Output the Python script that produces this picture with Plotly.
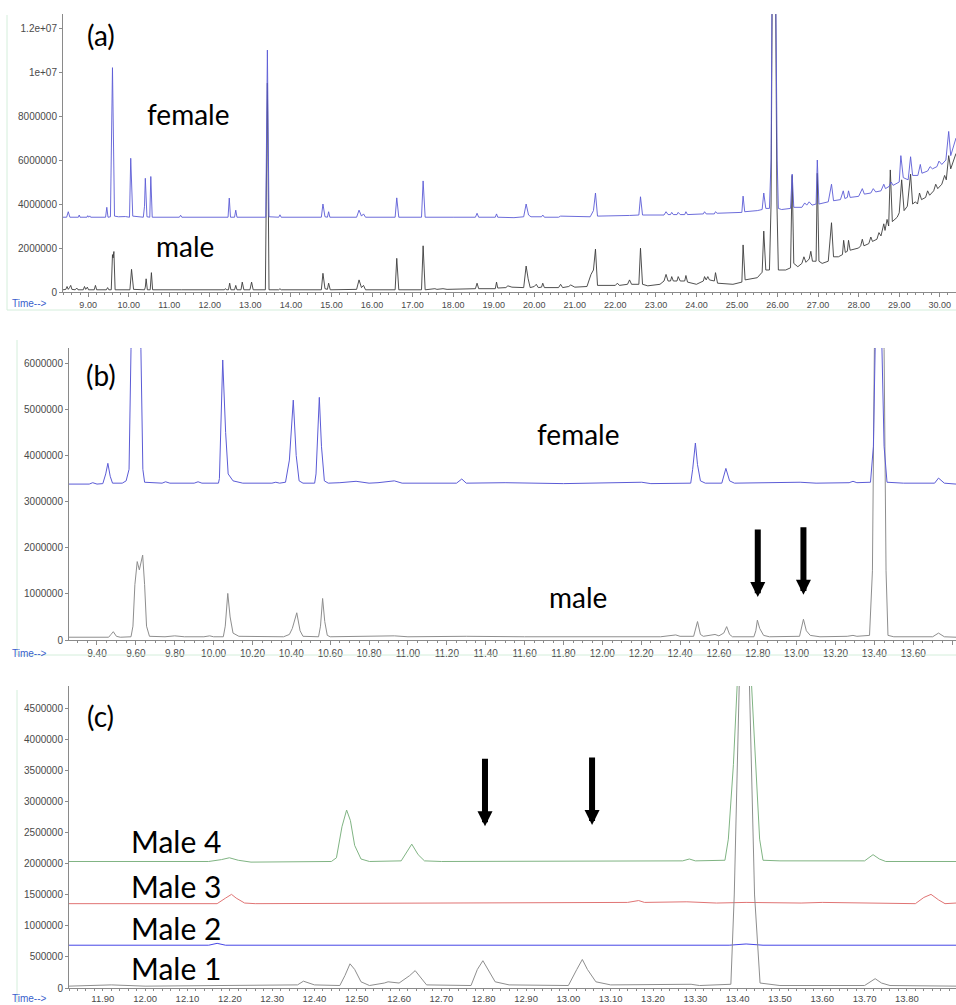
import plotly.graph_objects as go

W, H = 956, 1005
M = 1e6  # intensities below are typed in millions of counts

# ---------------- Panel (a): full chromatogram, female vs male ----------------
female_a = [
    (8.38, 3.40), (8.47, 3.40), (8.51, 3.65), (8.55, 3.40), (8.76, 3.40), (8.78, 3.50), (8.80, 3.40),
    (8.97, 3.40), (8.99, 3.47), (9.01, 3.40), (9.04, 3.46), (9.06, 3.40), (9.43, 3.40), (9.46, 3.85),
    (9.49, 3.40), (9.55, 3.42), (9.60, 10.2), (9.65, 3.45), (9.75, 3.42), (9.92, 3.43), (10.02, 3.40),
    (10.05, 6.08), (10.10, 3.45), (10.36, 3.40), (10.39, 3.90), (10.41, 5.17), (10.45, 3.42),
    (10.52, 3.40), (10.545, 5.25), (10.58, 3.40), (11.25, 3.40), (11.28, 3.49), (11.31, 3.40),
    (12.45, 3.40), (12.48, 4.27), (12.51, 3.40), (12.61, 3.40), (12.64, 3.72), (12.67, 3.40),
    (13.38, 3.40), (13.42, 11.0), (13.46, 3.42), (13.70, 3.40), (13.73, 3.51), (13.76, 3.40),
    (14.75, 3.40), (14.79, 4.00), (14.84, 3.42), (14.90, 3.40), (14.93, 3.65), (14.96, 3.40),
    (15.62, 3.40), (15.68, 3.72), (15.74, 3.45), (15.79, 3.55), (15.84, 3.40), (16.57, 3.40),
    (16.61, 4.28), (16.66, 3.40), (17.22, 3.40), (17.26, 5.05), (17.31, 3.40), (18.00, 3.40),
    (18.55, 3.40), (18.59, 3.58), (18.63, 3.40), (19.04, 3.40), (19.07, 3.55), (19.10, 3.40),
    (19.50, 3.38), (19.74, 3.42), (19.80, 4.00), (19.86, 3.50), (19.92, 3.42), (20.18, 3.42),
    (20.21, 3.50), (20.25, 3.40), (20.60, 3.40), (20.65, 3.45), (21.00, 3.42), (21.38, 3.42),
    (21.46, 3.70), (21.51, 4.50), (21.56, 3.45), (22.00, 3.45), (22.35, 3.48), (22.58, 3.50),
    (22.62, 4.33), (22.67, 3.50), (23.20, 3.50), (23.25, 3.65), (23.30, 3.52), (23.36, 3.52),
    (23.39, 3.62), (23.43, 3.52), (23.52, 3.52), (23.55, 3.62), (23.60, 3.52), (23.71, 3.52),
    (23.74, 3.65), (23.78, 3.52), (24.17, 3.55), (24.20, 3.65), (24.24, 3.55), (24.44, 3.55),
    (24.47, 3.65), (24.51, 3.58), (25.00, 3.62), (25.12, 3.62), (25.15, 4.36), (25.19, 3.65),
    (25.50, 3.70), (25.62, 3.75), (25.66, 4.50), (25.71, 3.80), (25.80, 3.80), (25.84, 6.00),
    (25.86, 12.6), (25.91, 20.0), (25.96, 12.6), (25.99, 6.00), (26.02, 3.80),
    (26.10, 3.75), (26.32, 3.80), (26.36, 5.36), (26.40, 3.85), (26.60, 3.85),
    (26.67, 4.05), (26.72, 3.95), (26.78, 4.10), (26.85, 3.95), (26.95, 4.00), (26.98, 6.00),
    (27.02, 4.00), (27.25, 4.10), (27.33, 4.90), (27.38, 4.15), (27.55, 4.20), (27.62, 4.60),
    (27.66, 4.25), (27.72, 4.30), (27.75, 4.60), (27.79, 4.30), (28.00, 4.35), (28.09, 4.70),
    (28.14, 4.45), (28.30, 4.50), (28.36, 4.70), (28.42, 4.55), (28.55, 4.60), (28.62, 4.90),
    (28.66, 4.70), (28.75, 4.80), (28.80, 5.00), (28.85, 4.85), (29.00, 5.00), (29.04, 6.20),
    (29.10, 5.20), (29.22, 5.10), (29.28, 6.15), (29.33, 5.30), (29.46, 5.30), (29.52, 5.80),
    (29.56, 5.40), (29.70, 5.50), (29.76, 5.70), (29.82, 5.60), (29.93, 5.70), (29.98, 5.95),
    (30.05, 5.80), (30.15, 6.00), (30.22, 7.30), (30.27, 6.20), (30.40, 7.00),
]
male_a = [
    (8.38, 0.10), (8.45, 0.12), (8.48, 0.25), (8.51, 0.12), (8.54, 0.20), (8.57, 0.30), (8.60, 0.12),
    (8.68, 0.10), (8.72, 0.18), (8.75, 0.10), (8.88, 0.10), (8.91, 0.25), (8.94, 0.12), (8.98, 0.22),
    (9.01, 0.10), (9.15, 0.10), (9.18, 0.30), (9.21, 0.10), (9.45, 0.10), (9.48, 0.20), (9.51, 0.10),
    (9.57, 0.10), (9.60, 1.70), (9.615, 1.55), (9.635, 1.84), (9.665, 0.10), (10.03, 0.10),
    (10.07, 1.03), (10.12, 0.12), (10.39, 0.10), (10.41, 0.22), (10.43, 0.60), (10.46, 0.10),
    (10.53, 0.10), (10.56, 0.88), (10.59, 0.10), (11.30, 0.10), (12.36, 0.10), (12.38, 0.15),
    (12.42, 0.10), (12.46, 0.10), (12.49, 0.40), (12.52, 0.10), (12.58, 0.12), (12.61, 0.10),
    (12.64, 0.30), (12.67, 0.10), (12.77, 0.10), (12.80, 0.45), (12.84, 0.10), (12.99, 0.10),
    (13.03, 0.45), (13.07, 0.10), (13.37, 0.10), (13.42, 9.50), (13.46, 0.10), (13.70, 0.10),
    (13.73, 0.15), (13.76, 0.10), (14.75, 0.10), (14.79, 0.85), (14.84, 0.15), (14.90, 0.12),
    (14.93, 0.40), (14.97, 0.10), (15.62, 0.12), (15.68, 0.55), (15.74, 0.20), (15.79, 0.30),
    (15.84, 0.10), (16.57, 0.10), (16.61, 1.53), (16.66, 0.10), (17.22, 0.10), (17.26, 2.10),
    (17.31, 0.10), (17.50, 0.12), (17.55, 0.15), (17.60, 0.12), (17.75, 0.15), (17.85, 0.12),
    (18.55, 0.15), (18.59, 0.40), (18.63, 0.15), (19.04, 0.15), (19.07, 0.45), (19.10, 0.18),
    (19.30, 0.20), (19.35, 0.28), (19.45, 0.22), (19.74, 0.20), (19.80, 1.18), (19.85, 0.60),
    (19.90, 0.20), (20.00, 0.25), (20.05, 0.35), (20.10, 0.20), (20.18, 0.22), (20.21, 0.40),
    (20.25, 0.20), (20.60, 0.20), (20.65, 0.35), (20.70, 0.20), (20.85, 0.25), (20.90, 0.32),
    (21.00, 0.22), (21.30, 0.25), (21.40, 0.80), (21.46, 1.00), (21.51, 1.95), (21.56, 0.30),
    (22.00, 0.30), (22.05, 0.40), (22.10, 0.30), (22.30, 0.35), (22.35, 0.55), (22.40, 0.35),
    (22.58, 0.35), (22.62, 1.99), (22.67, 0.35), (22.80, 0.28), (22.90, 0.30), (23.10, 0.35),
    (23.20, 0.50), (23.25, 0.80), (23.30, 0.50), (23.36, 0.50), (23.39, 0.70), (23.43, 0.50),
    (23.52, 0.50), (23.55, 0.70), (23.60, 0.50), (23.71, 0.50), (23.74, 0.75), (23.78, 0.45),
    (24.00, 0.35), (24.17, 0.50), (24.20, 0.70), (24.24, 0.55), (24.28, 0.70), (24.32, 0.55),
    (24.44, 0.50), (24.47, 0.88), (24.52, 0.40), (24.90, 0.35), (25.12, 0.45), (25.15, 2.14),
    (25.20, 0.55), (25.50, 0.65), (25.62, 0.90), (25.66, 2.77), (25.71, 1.00), (25.80, 1.00),
    (25.84, 4.00), (25.865, 12.6), (25.91, 19.0), (25.955, 12.6), (25.985, 4.00), (26.02, 1.00),
    (26.20, 1.00), (26.32, 1.10), (26.36, 5.30), (26.40, 1.30),
    (26.50, 1.15), (26.60, 1.30), (26.65, 1.60), (26.70, 1.35), (26.78, 1.50), (26.82, 1.85),
    (26.86, 1.40), (26.95, 1.40), (26.98, 5.40), (27.02, 1.40), (27.10, 1.30), (27.25, 1.40),
    (27.33, 3.15), (27.38, 1.60), (27.50, 1.60), (27.60, 1.70), (27.63, 2.35), (27.67, 1.80),
    (27.72, 1.85), (27.75, 2.35), (27.79, 1.90), (28.00, 2.00), (28.05, 2.10), (28.09, 2.40),
    (28.13, 2.10), (28.25, 2.20), (28.30, 2.50), (28.34, 2.30), (28.45, 2.40), (28.50, 2.70),
    (28.55, 2.55), (28.62, 3.10), (28.65, 2.80), (28.70, 3.30), (28.74, 3.00), (28.78, 5.55),
    (28.83, 3.20), (28.95, 3.40), (29.00, 3.60), (29.06, 5.10), (29.12, 3.70), (29.20, 3.90),
    (29.28, 5.36), (29.33, 4.00), (29.40, 4.10), (29.45, 4.00), (29.50, 4.50), (29.55, 4.20),
    (29.65, 4.30), (29.70, 4.60), (29.75, 4.40), (29.85, 4.60), (29.90, 4.90), (29.95, 4.70),
    (30.05, 4.90), (30.12, 5.30), (30.16, 5.10), (30.22, 6.20), (30.27, 5.60), (30.40, 6.30),
]

# ---------------- Panel (b): zoom 9.26-13.82 min ----------------
female_b = [
    (9.256, 3.38), (9.36, 3.38), (9.378, 3.41), (9.40, 3.38), (9.43, 3.39), (9.445, 3.60),
    (9.456, 3.83), (9.468, 3.55), (9.48, 3.40), (9.53, 3.40), (9.55, 3.45), (9.565, 3.70),
    (9.575, 6.30), (9.60, 10.2), (9.626, 6.30), (9.636, 3.70), (9.645, 3.42), (9.70, 3.40),
    (9.735, 3.40), (9.753, 3.43), (9.775, 3.40), (9.90, 3.40), (9.92, 3.43), (9.94, 3.40),
    (10.025, 3.40), (10.03, 3.50), (10.047, 6.07), (10.062, 4.50), (10.075, 3.60), (10.10, 3.45),
    (10.15, 3.40), (10.30, 3.40), (10.32, 3.42), (10.34, 3.40), (10.37, 3.42), (10.39, 3.90),
    (10.41, 5.20), (10.425, 4.00), (10.44, 3.45), (10.46, 3.40), (10.52, 3.40), (10.527, 3.60),
    (10.544, 5.26), (10.555, 4.20), (10.57, 3.45), (10.59, 3.40), (10.65, 3.41), (10.733, 3.44),
    (10.80, 3.40), (10.846, 3.41), (10.93, 3.45), (10.97, 3.40), (11.25, 3.40), (11.277, 3.49),
    (11.30, 3.40), (11.50, 3.41), (11.80, 3.39), (12.203, 3.42), (12.25, 3.39), (12.455, 3.40),
    (12.465, 3.70), (12.479, 4.27), (12.49, 3.80), (12.505, 3.45), (12.53, 3.40), (12.615, 3.40),
    (12.636, 3.72), (12.655, 3.45), (12.68, 3.40), (13.018, 3.42), (13.10, 3.40), (13.27, 3.41),
    (13.29, 3.44), (13.31, 3.41), (13.38, 3.42), (13.395, 4.20), (13.408, 6.50), (13.424, 11.0),
    (13.438, 6.50), (13.45, 4.20), (13.465, 3.42), (13.55, 3.40), (13.71, 3.40), (13.73, 3.51),
    (13.76, 3.40), (13.82, 3.38),
]
male_b = [
    (9.256, 0.06), (9.46, 0.06), (9.472, 0.12), (9.484, 0.18), (9.50, 0.08), (9.52, 0.06),
    (9.575, 0.07), (9.585, 0.30), (9.595, 1.20), (9.607, 1.70), (9.618, 1.52), (9.635, 1.84),
    (9.645, 1.20), (9.655, 0.30), (9.67, 0.08), (9.75, 0.07), (9.80, 0.09), (9.85, 0.07),
    (9.95, 0.07), (9.98, 0.09), (10.00, 0.07), (10.05, 0.07), (10.06, 0.30), (10.073, 1.01),
    (10.085, 0.50), (10.10, 0.15), (10.13, 0.08), (10.36, 0.07), (10.39, 0.12), (10.405, 0.25),
    (10.428, 0.59), (10.445, 0.20), (10.46, 0.08), (10.54, 0.07), (10.55, 0.30), (10.561, 0.90),
    (10.572, 0.40), (10.585, 0.10), (10.60, 0.07), (10.73, 0.08), (10.93, 0.09), (11.00, 0.07),
    (11.30, 0.08), (11.60, 0.07), (12.30, 0.07), (12.378, 0.11), (12.40, 0.08), (12.47, 0.08),
    (12.49, 0.40), (12.505, 0.12), (12.52, 0.08), (12.58, 0.12), (12.60, 0.09), (12.625, 0.15),
    (12.64, 0.29), (12.655, 0.12), (12.67, 0.07), (12.78, 0.07), (12.79, 0.20), (12.798, 0.43),
    (12.81, 0.25), (12.83, 0.10), (12.86, 0.07), (13.015, 0.08), (13.025, 0.25), (13.035, 0.45),
    (13.05, 0.20), (13.07, 0.10), (13.12, 0.07), (13.26, 0.08), (13.29, 0.10), (13.31, 0.08),
    (13.375, 0.10), (13.39, 1.50), (13.40, 6.30), (13.42, 9.50), (13.45, 6.30), (13.46, 1.50),
    (13.47, 0.10), (13.50, 0.07), (13.70, 0.07), (13.73, 0.15), (13.76, 0.07), (13.82, 0.06),
]

# ---------------- Panel (c): four males, 11.82-13.92 min ----------------
male4_c = [
    (11.82, 2.04), (12.15, 2.04), (12.18, 2.07), (12.199, 2.10), (12.22, 2.06), (12.25, 2.03),
    (12.44, 2.04), (12.452, 2.10), (12.465, 2.60), (12.476, 2.87), (12.485, 2.70), (12.495, 2.30),
    (12.51, 2.08), (12.53, 2.04), (12.605, 2.05), (12.62, 2.22), (12.63, 2.32), (12.645, 2.15),
    (12.66, 2.05), (12.70, 2.04), (13.00, 2.05), (13.27, 2.05), (13.286, 2.08), (13.30, 2.05),
    (13.37, 2.06), (13.378, 2.40), (13.39, 3.60), (13.398, 4.87), (13.415, 7.20), (13.433, 4.87),
    (13.442, 3.60), (13.452, 2.40), (13.46, 2.06), (13.50, 2.05), (13.70, 2.05), (13.71, 2.10),
    (13.72, 2.15), (13.735, 2.08), (13.75, 2.04), (13.916, 2.04),
]
male3_c = [
    (11.82, 1.36), (12.17, 1.36), (12.19, 1.45), (12.204, 1.51), (12.215, 1.45), (12.235, 1.37),
    (12.26, 1.36), (12.90, 1.37), (13.05, 1.38), (13.14, 1.38), (13.166, 1.41), (13.18, 1.38),
    (13.28, 1.39), (13.35, 1.37), (13.42, 1.38), (13.55, 1.37), (13.60, 1.38), (13.82, 1.36),
    (13.84, 1.46), (13.857, 1.51), (13.875, 1.42), (13.89, 1.36), (13.916, 1.37),
]
male2_c = [
    (11.82, 0.69), (12.15, 0.69), (12.17, 0.72), (12.19, 0.69), (13.38, 0.69), (13.42, 0.71),
    (13.46, 0.69), (13.62, 0.69), (13.64, 0.70), (13.916, 0.69),
]
male1_c = [
    (11.82, 0.03), (11.92, 0.05), (12.00, 0.03), (12.20, 0.04), (12.36, 0.05), (12.374, 0.11),
    (12.40, 0.05), (12.46, 0.04), (12.472, 0.20), (12.484, 0.39), (12.495, 0.30), (12.51, 0.10),
    (12.53, 0.04), (12.565, 0.08), (12.574, 0.10), (12.60, 0.08), (12.625, 0.20), (12.638, 0.28),
    (12.65, 0.18), (12.665, 0.05), (12.77, 0.04), (12.785, 0.30), (12.798, 0.44), (12.81, 0.30),
    (12.827, 0.10), (12.86, 0.05), (13.00, 0.04), (13.02, 0.30), (13.033, 0.46), (13.045, 0.30),
    (13.065, 0.10), (13.10, 0.05), (13.29, 0.06), (13.31, 0.04), (13.384, 0.06), (13.392, 1.50),
    (13.404, 4.87), (13.416, 8.40), (13.428, 4.87), (13.44, 1.50), (13.453, 0.08), (13.50, 0.04),
    (13.70, 0.04), (13.712, 0.10), (13.725, 0.15), (13.74, 0.08), (13.76, 0.04), (13.916, 0.03),
]

# tick labels
yticks_a = [0, 2e6, 4e6, 6e6, 8e6, 1e7, 1.2e7]
ytext_a = ["0", "2000000", "4000000", "6000000", "8000000", "1e+07", "1.2e+07"]
yticks_b = [0, 1e6, 2e6, 3e6, 4e6, 5e6, 6e6]
ytext_b = ["0", "1000000", "2000000", "3000000", "4000000", "5000000", "6000000"]
yticks_c = [0, 5e5, 1e6, 1.5e6, 2e6, 2.5e6, 3e6, 3.5e6, 4e6, 4.5e6]
ytext_c = ["0", "500000", "1000000", "1500000", "2000000", "2500000", "3000000",
           "3500000", "4000000", "4500000"]

# arrow markers (retention time, intensity at arrow tip)
arrows_b = [(12.80, 0.93), (13.035, 0.98)]
arrows_c = [(12.803, 2.61), (13.056, 2.63)]

# ---------------- figure ----------------
fig = go.Figure()

def add(series, color, xa, ya, width=1.0):
    fig.add_trace(go.Scatter(
        x=[p[0] for p in series], y=[p[1] * M for p in series],
        mode="lines", line=dict(color=color, width=width),
        xaxis=xa, yaxis=ya, hoverinfo="skip", showlegend=False))

BLUE = "#5b5bd6"
add(male_a, "#3c3c3c", "x", "y", 0.9)
add(female_a, BLUE, "x", "y", 0.9)
add(male_b, "#8e8e8e", "x2", "y2")
add(female_b, BLUE, "x2", "y2")
add(male4_c, "#80b483", "x3", "y3")
add(male3_c, "#e07474", "x3", "y3")
add(male2_c, "#4646e6", "x3", "y3")
add(male1_c, "#8e8e8e", "x3", "y3")

AX = "#8a8a8a"
TF = dict(family="Liberation Sans, Arial, sans-serif", size=10, color="#4a4a4a")

def xax(domain_left, rng, dtick, minor, anchor, fsize=10, tlen=4):
    return dict(domain=[domain_left / W, 1], range=rng, anchor=anchor,
                showline=True, linecolor=AX, linewidth=1, ticks="outside", ticklen=tlen,
                tickcolor=AX, tick0=0, dtick=dtick, tickformat=".2f",
                tickfont=dict(TF, size=fsize), showgrid=False, zeroline=False,
                minor=dict(ticks="outside", ticklen=2, tickcolor=AX, dtick=minor, tick0=0),
                fixedrange=True, automargin=False)

def yax(top_px, bot_px, ymax, vals, text, anchor):
    return dict(domain=[1 - bot_px / H, 1 - top_px / H], range=[0, ymax], anchor=anchor,
                showline=True, linecolor=AX, linewidth=1, ticks="outside", ticklen=3,
                tickcolor=AX, tickvals=vals, ticktext=text, tickfont=TF,
                showgrid=False, zeroline=False, fixedrange=True, automargin=False)

fig.update_layout(
    width=W, height=H, margin=dict(l=0, r=0, t=0, b=0, pad=0),
    paper_bgcolor="white", plot_bgcolor="white", showlegend=False,
    xaxis=xax(63, [8.38, 30.40], 1, 0.2, "y", 9),
    yaxis=yax(14, 292, 12.64e6, yticks_a, ytext_a, "x"),
    xaxis2=xax(69, [9.256, 13.82], 0.2, 0.05, "y2"),
    yaxis2=yax(348, 640, 6.33e6, yticks_b, ytext_b, "x2"),
    xaxis3=xax(69, [11.82, 13.916], 0.1, 0.02, "y3", 9.5, 2),
    yaxis3=yax(686, 988, 4.87e6, yticks_c, ytext_c, "x3"),
)

LBL = "Lato, Open Sans, sans-serif"

def label(text, px, py, size, xanchor="center"):
    fig.add_annotation(text=text, xref="paper", yref="paper", x=px / W, y=1 - py / H,
                       xanchor=xanchor, yanchor="middle", showarrow=False,
                       font=dict(family=LBL, size=size, color="black"))

label("(a)", 101, 35, 28)
label("female", 188, 114, 28)
label("male", 185, 246, 28)
label("(b)", 101, 375, 28)
label("female", 578, 434, 28)
label("male", 578, 597, 28)
label("(c)", 100, 716, 28)
label("Male 4", 129, 841, 30, "left")
label("Male 3", 129, 886, 30, "left")
label("Male 2", 129, 928, 30, "left")
label("Male 1", 129, 968, 30, "left")

for py in (303, 653, 998):
    fig.add_annotation(text="Time-->", xref="paper", yref="paper", x=10 / W, y=1 - py / H,
                       xanchor="left", yanchor="middle", showarrow=False,
                       font=dict(family="Liberation Sans, Arial, sans-serif", size=10,
                                 color="#3a5fcd"))

for (rt, tip), (xr, yr) in [(a, ("x2", "y2")) for a in arrows_b] + [(a, ("x3", "y3")) for a in arrows_c]:
    fig.add_annotation(text="", x=rt, y=tip * M, xref=xr, yref=yr, ax=0, ay=-69,
                       showarrow=True, arrowhead=2, arrowsize=0.5, arrowwidth=6,
                       arrowcolor="black", standoff=0)

# faint green window frames of the original screenshots
FR = "#d4eedb"
for x0, y0, x1, y1 in [(7, 15, 7, 310), (7, 310, 956, 310), (17, 340, 17, 655),
                       (17, 655, 956, 655), (17, 690, 17, 1003)]:
    fig.add_shape(type="line", xref="paper", yref="paper", x0=x0 / W, x1=x1 / W,
                  y0=1 - y0 / H, y1=1 - y1 / H, line=dict(color=FR, width=1))

fig.write_html("out.html", config={"displayModeBar": False},
               post_script="document.body.style.margin='0';document.body.style.overflow='hidden';")
